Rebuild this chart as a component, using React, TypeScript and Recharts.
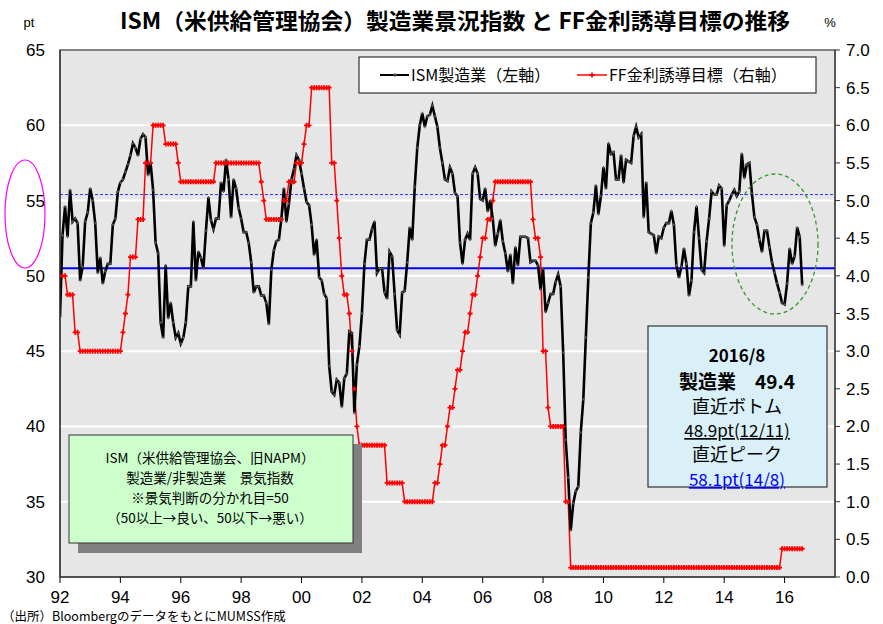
import React from "react";
import {
  LineChart,
  Line,
  XAxis,
  YAxis,
  CartesianGrid,
  ReferenceLine,
} from "recharts";

// monthly series, 1992/1 .. 2016/8
const START_YEAR = 1992;

// ISM manufacturing index (pt)
const ismValues = [
  47.3, 52.7, 54.6, 52.6, 55.7, 53.6, 53.8, 53.5, 49.7, 50.6, 53.6, 54.2, // 1992
  55.8, 55.0, 53.5, 50.2, 51.2, 49.5, 50.3, 50.8, 50.8, 53.4, 53.8, 55.6, // 1993
  56.2, 56.4, 56.9, 57.4, 58.0, 58.8, 58.5, 58.0, 59.1, 59.4, 59.2, 56.7, // 1994
  57.5, 55.7, 52.2, 51.5, 46.9, 45.9, 50.7, 47.2, 48.2, 46.9, 45.9, 46.2, // 1995
  45.5, 45.9, 46.9, 49.3, 49.3, 53.6, 49.7, 51.6, 51.2, 50.5, 53.0, 55.2, // 1996
  53.7, 53.1, 53.8, 53.8, 56.2, 55.6, 57.7, 56.4, 53.9, 56.4, 55.8, 54.5, // 1997
  53.8, 52.9, 52.9, 52.2, 50.9, 48.9, 49.3, 49.3, 48.7, 48.7, 48.2, 46.8, // 1998
  50.4, 51.7, 52.3, 52.4, 53.8, 55.8, 53.6, 54.8, 56.4, 57.1, 58.0, 57.7, // 1999
  56.8, 55.8, 54.9, 54.7, 53.4, 51.4, 52.4, 49.9, 49.7, 48.8, 48.5, 44.0, // 2000
  42.3, 42.1, 43.1, 42.9, 41.3, 43.2, 43.5, 46.3, 46.2, 40.9, 44.1, 45.3, // 2001
  47.5, 50.8, 52.4, 52.4, 53.1, 53.6, 50.2, 50.5, 50.5, 48.9, 48.5, 51.6, // 2002
  51.3, 48.8, 46.4, 46.1, 48.9, 49.0, 50.9, 53.2, 52.4, 55.9, 58.5, 60.0, // 2003
  60.8, 59.9, 60.6, 60.7, 61.3, 60.6, 59.9, 58.5, 57.5, 56.4, 56.3, 57.2, // 2004
  56.8, 55.5, 55.3, 52.2, 50.8, 52.4, 52.8, 52.4, 56.8, 57.2, 56.8, 55.1, // 2005
  55.0, 55.8, 54.3, 55.0, 53.8, 52.0, 52.8, 53.7, 52.3, 51.5, 50.3, 51.4, // 2006
  49.5, 51.9, 50.7, 52.6, 52.6, 52.6, 52.5, 50.9, 51.0, 51.0, 50.7, 49.1, // 2007
  50.5, 47.6, 48.2, 48.8, 48.8, 49.6, 50.1, 49.3, 44.9, 39.1, 36.6, 33.1, // 2008
  34.9, 35.7, 36.0, 39.6, 41.8, 45.9, 49.9, 53.5, 54.2, 56.0, 54.1, 55.3, // 2009
  57.2, 55.8, 58.8, 58.1, 58.2, 56.4, 56.4, 58.0, 56.2, 57.7, 57.6, 57.5, // 2010
  59.3, 59.9, 59.2, 59.4, 53.9, 56.2, 52.9, 52.8, 52.7, 51.5, 52.6, 52.5, // 2011
  53.2, 53.5, 53.5, 54.3, 53.4, 50.7, 49.9, 50.6, 51.8, 50.8, 48.7, 49.7, // 2012
  52.9, 54.6, 52.5, 50.4, 50.2, 52.3, 53.8, 55.6, 55.4, 55.4, 56.0, 55.8, // 2013
  52.0, 54.7, 55.0, 55.4, 55.7, 55.3, 55.6, 58.1, 56.5, 57.4, 57.5, 55.5, // 2014
  53.9, 53.4, 52.4, 51.6, 53.0, 53.0, 51.9, 50.9, 50.2, 49.5, 48.9, 48.2, // 2015
  48.1, 49.5, 51.8, 50.8, 51.3, 53.2, 52.6, 49.4, // 2016
];

// FF rate target (%), month end
const ffValues = [
  4.0, 4.0, 4.0, 3.75, 3.75, 3.75, 3.25, 3.25, 3.0, 3.0, 3.0, 3.0, // 1992
  3.0, 3.0, 3.0, 3.0, 3.0, 3.0, 3.0, 3.0, 3.0, 3.0, 3.0, 3.0, // 1993
  3.0, 3.25, 3.5, 3.75, 4.25, 4.25, 4.25, 4.75, 4.75, 4.75, 5.5, 5.5, // 1994
  5.5, 6.0, 6.0, 6.0, 6.0, 6.0, 5.75, 5.75, 5.75, 5.75, 5.75, 5.5, // 1995
  5.25, 5.25, 5.25, 5.25, 5.25, 5.25, 5.25, 5.25, 5.25, 5.25, 5.25, 5.25, // 1996
  5.25, 5.25, 5.5, 5.5, 5.5, 5.5, 5.5, 5.5, 5.5, 5.5, 5.5, 5.5, // 1997
  5.5, 5.5, 5.5, 5.5, 5.5, 5.5, 5.5, 5.5, 5.25, 5.0, 4.75, 4.75, // 1998
  4.75, 4.75, 4.75, 4.75, 4.75, 5.0, 5.0, 5.25, 5.25, 5.25, 5.5, 5.5, // 1999
  5.5, 5.75, 6.0, 6.0, 6.5, 6.5, 6.5, 6.5, 6.5, 6.5, 6.5, 6.5, // 2000
  5.5, 5.5, 5.0, 4.5, 4.0, 3.75, 3.75, 3.5, 3.0, 2.5, 2.0, 1.75, // 2001
  1.75, 1.75, 1.75, 1.75, 1.75, 1.75, 1.75, 1.75, 1.75, 1.75, 1.25, 1.25, // 2002
  1.25, 1.25, 1.25, 1.25, 1.25, 1.0, 1.0, 1.0, 1.0, 1.0, 1.0, 1.0, // 2003
  1.0, 1.0, 1.0, 1.0, 1.0, 1.25, 1.25, 1.5, 1.75, 1.75, 2.0, 2.25, // 2004
  2.25, 2.5, 2.75, 2.75, 3.0, 3.25, 3.25, 3.5, 3.75, 3.75, 4.0, 4.25, // 2005
  4.5, 4.5, 4.75, 4.75, 5.0, 5.25, 5.25, 5.25, 5.25, 5.25, 5.25, 5.25, // 2006
  5.25, 5.25, 5.25, 5.25, 5.25, 5.25, 5.25, 5.25, 4.75, 4.5, 4.5, 4.25, // 2007
  3.0, 3.0, 2.25, 2.0, 2.0, 2.0, 2.0, 2.0, 2.0, 1.0, 1.0, 0.125, // 2008
  0.125, 0.125, 0.125, 0.125, 0.125, 0.125, 0.125, 0.125, 0.125, 0.125, 0.125, 0.125, // 2009
  0.125, 0.125, 0.125, 0.125, 0.125, 0.125, 0.125, 0.125, 0.125, 0.125, 0.125, 0.125, // 2010
  0.125, 0.125, 0.125, 0.125, 0.125, 0.125, 0.125, 0.125, 0.125, 0.125, 0.125, 0.125, // 2011
  0.125, 0.125, 0.125, 0.125, 0.125, 0.125, 0.125, 0.125, 0.125, 0.125, 0.125, 0.125, // 2012
  0.125, 0.125, 0.125, 0.125, 0.125, 0.125, 0.125, 0.125, 0.125, 0.125, 0.125, 0.125, // 2013
  0.125, 0.125, 0.125, 0.125, 0.125, 0.125, 0.125, 0.125, 0.125, 0.125, 0.125, 0.125, // 2014
  0.125, 0.125, 0.125, 0.125, 0.125, 0.125, 0.125, 0.125, 0.125, 0.125, 0.125, 0.375, // 2015
  0.375, 0.375, 0.375, 0.375, 0.375, 0.375, 0.375, 0.375, // 2016
];

const xTicks = [1992, 1994, 1996, 1998, 2000, 2002, 2004, 2006, 2008, 2010, 2012, 2014, 2016];
const leftTicks = [30, 35, 40, 45, 50, 55, 60, 65];
const rightTicks = [0, 0.5, 1, 1.5, 2, 2.5, 3, 3.5, 4, 4.5, 5, 5.5, 6, 6.5, 7];

// horizontal reference lines (left axis)
const ismBaseLine = 50.5;
const ismUpperLine = 55.4;

const noteLines = [
  "ISM（米供給管理協会、旧NAPM）",
  "製造業/非製造業　景気指数",
  "※景気判断の分かれ目=50",
  "（50以上→良い、50以下→悪い）",
];

const JP = '"Noto Sans CJK JP", "Noto Sans", sans-serif';
const NUM = '"Liberation Sans", Arial, sans-serif';

const chartData = ismValues.map((v, i) => ({
  t: START_YEAR + i / 12,
  ism: v,
  ff: ffValues[i],
}));

const IsmDot = (props: any) => {
  const { cx, cy } = props;
  if (cx == null || cy == null) return <g />;
  return (
    <path
      d={`M${cx - 1.5},${cy}h3M${cx},${cy - 1.5}v3`}
      stroke="#555"
      strokeWidth={1}
    />
  );
};

const FfDot = (props: any) => {
  const { cx, cy } = props;
  if (cx == null || cy == null) return <g />;
  return (
    <path
      d={`M${cx - 2.5},${cy}h5M${cx},${cy - 2.5}v5`}
      stroke="#ff0000"
      strokeWidth={1.8}
    />
  );
};

const App: React.FC = () => {
  return (
    <div
      style={{
        position: "absolute",
        left: 0,
        top: 0,
        width: 883,
        height: 624,
        background: "#fff",
      }}
    >
      <LineChart
        width={883}
        height={624}
        data={chartData}
        margin={{ top: 50, right: 0, bottom: 17, left: 10 }}
      >
        <CartesianGrid
          vertical={false}
          fill="#e6e6e6"
          stroke="#ffffff"
          strokeWidth={2}
          horizontalValues={leftTicks}
        />
        <XAxis
          dataKey="t"
          type="number"
          domain={[1992, 2017.67]}
          ticks={xTicks}
          allowDataOverflow
          height={30}
          tickSize={6}
          tickMargin={8}
          stroke="#000"
          tick={{ fill: "#000", fontSize: 17, fontFamily: NUM }}
          tickFormatter={(t: number) => String(t % 100).padStart(2, "0")}
        />
        <YAxis
          domain={[30, 65]}
          ticks={leftTicks}
          width={50}
          tickLine={false}
          tickMargin={9}
          stroke="#000"
          tick={{ fill: "#000", fontSize: 17, fontFamily: NUM }}
        />
        <YAxis
          yAxisId="right"
          orientation="right"
          domain={[0, 7]}
          ticks={rightTicks}
          width={48}
          tickSize={5}
          tickMargin={6}
          stroke="#333"
          tick={{ fill: "#000", fontSize: 17, fontFamily: NUM }}
          tickFormatter={(v: number) => v.toFixed(1)}
        />
        <ReferenceLine y={ismBaseLine} stroke="#0000ff" strokeWidth={2} />
        <ReferenceLine
          y={ismUpperLine}
          stroke="#3333ff"
          strokeWidth={1}
          strokeDasharray="3 2"
        />
        <Line
          yAxisId="right"
          type="linear"
          dataKey="ff"
          stroke="#ff0000"
          strokeWidth={1.5}
          dot={FfDot}
          isAnimationActive={false}
        />
        <Line
          type="linear"
          dataKey="ism"
          stroke="#000"
          strokeWidth={2.6}
          dot={IsmDot}
          isAnimationActive={false}
        />
      </LineChart>

      <svg
        width={883}
        height={624}
        style={{ position: "absolute", left: 0, top: 0, pointerEvents: "none" }}
      >
        {/* plot frame */}
        <rect x={60} y={50} width={775} height={527} fill="none" stroke="#333" strokeWidth={1.2} />

        {/* title and units */}
        <text
          x={120}
          y={29}
          fontFamily={JP}
          fontWeight="bold"
          fontSize={22}
          textLength={670}
          lengthAdjust="spacingAndGlyphs"
          fill="#000"
        >
          ISM（米供給管理協会）製造業景況指数 と FF金利誘導目標の推移
        </text>
        <text x={29} y={27} fontFamily={NUM} fontSize={13} textAnchor="middle">pt</text>
        <text x={830} y={27} fontFamily={NUM} fontSize={13} textAnchor="middle">%</text>

        {/* legend */}
        <rect x={359} y={57} width={457} height={36} fill="#fff" stroke="#333" strokeWidth={1.2} />
        <line x1={380} y1={75} x2={409} y2={75} stroke="#000" strokeWidth={2} />
        <path d="M393,75h4M395,73v4" stroke="#555" strokeWidth={1} />
        <text x={411} y={81} fontFamily={JP} fontSize={16} fill="#000">ISM製造業（左軸）</text>
        <line x1={577} y1={75} x2={607} y2={75} stroke="#ff0000" strokeWidth={1.5} />
        <path d="M589.5,75h5M592,72.5v5" stroke="#ff0000" strokeWidth={1.8} />
        <text x={609} y={81} fontFamily={JP} fontSize={16} fill="#000">FF金利誘導目標（右軸）</text>

        {/* left note box */}
        <rect x={78} y={444} width={284} height={109} fill="#808080" />
        <rect x={69} y={435} width={284} height={108} fill="#ccffcc" stroke="#333" strokeWidth={1} />
        {noteLines.map((line, i) => (
          <text
            key={i}
            x={210}
            y={463 + i * 20}
            fontFamily={JP}
            fontSize={13.5}
            textAnchor="middle"
            fill="#000"
          >
            {line}
          </text>
        ))}

        {/* latest info box */}
        <rect x={648} y={326} width={179} height={161} fill="#daf0f8" stroke="#333" strokeWidth={1.2} />
        <g fontFamily={JP} textAnchor="middle" fill="#000">
          <text x={737} y={362} fontSize={17} fontWeight="bold">2016/8</text>
          <text x={737} y={389} fontSize={19} fontWeight="bold">製造業　49.4</text>
          <text x={737} y={413} fontSize={18}>直近ボトム</text>
          <text x={737} y={437} fontSize={17} textDecoration="underline">48.9pt(12/11)</text>
          <text x={737} y={461} fontSize={18}>直近ピーク</text>
          <text x={737} y={486} fontSize={17} fill="#0000ff" textDecoration="underline">58.1pt(14/8)</text>
        </g>

        {/* highlight ellipses */}
        <ellipse cx={25} cy={214} rx={20} ry={54} fill="none" stroke="#ff00ff" strokeWidth={1.2} />
        <ellipse
          cx={775}
          cy={244}
          rx={43}
          ry={70}
          fill="none"
          stroke="#339933"
          strokeWidth={1.3}
          strokeDasharray="4 3"
        />

        {/* source */}
        <text x={2} y={621} fontFamily={JP} fontSize={12.5} fill="#000">
          （出所）BloombergのデータをもとにMUMSS作成
        </text>
      </svg>
    </div>
  );
};

export default App;
